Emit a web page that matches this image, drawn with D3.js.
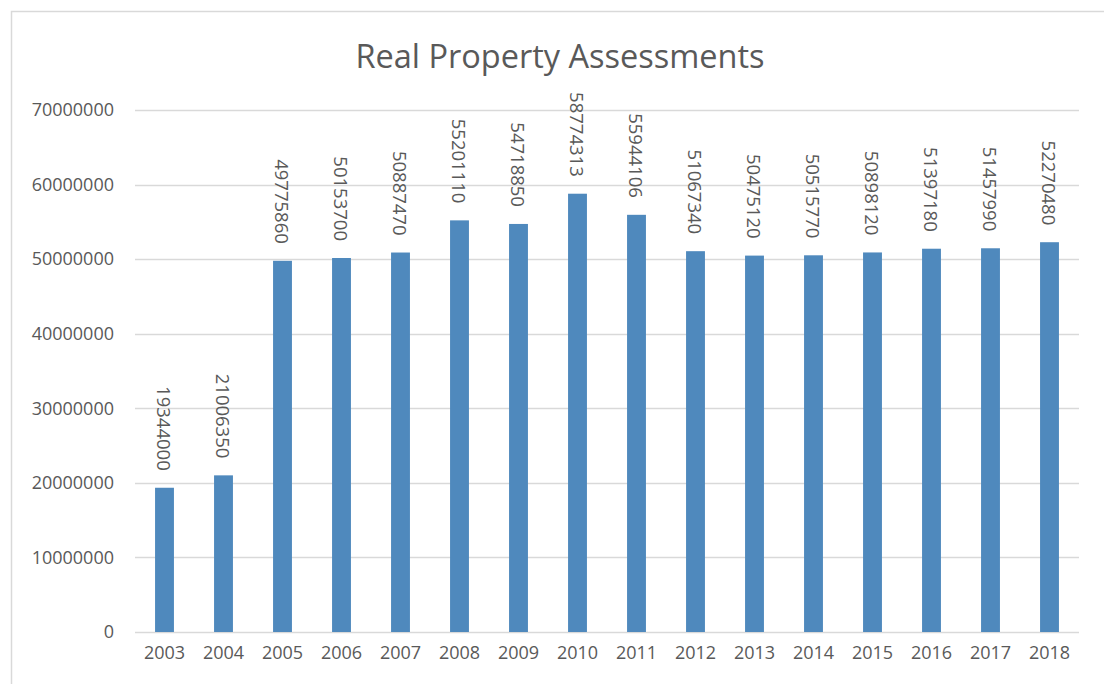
<!DOCTYPE html>
<html><head><meta charset="utf-8">
<script src="https://cdn.jsdelivr.net/npm/d3@7/dist/d3.min.js"></script>
<style>body{margin:0;background:#fff}svg{display:block}text{font-family:"Open Sans",sans-serif;fill:#595959}</style>
</head><body><svg id="c" width="1104" height="684"></svg>
<script>
const years = ["2003","2004","2005","2006","2007","2008","2009","2010","2011","2012","2013","2014","2015","2016","2017","2018"];
const values = [19344000,21006350,49775860,50153700,50887470,55201110,54718850,58774313,55944106,51067340,50475120,50515770,50898120,51397180,51457990,52270480];
const yTicks = [0,10000000,20000000,30000000,40000000,50000000,60000000,70000000];
const title = "Real Property Assessments";

const svg = d3.select("#c");
svg.append("rect").attr("x",11.5).attr("y",11.5).attr("width",1110).attr("height",700)
  .attr("fill","#fff").attr("stroke","#d9d9d9").attr("stroke-width",1.5);

const m = {l:135, r:1079, t:110, b:632};
const x = d3.scaleBand().domain(years).range([m.l,m.r]).paddingInner(0.68).paddingOuter(0.34);
const y = d3.scaleLinear().domain([0,70000000]).range([m.b,m.t]);

svg.append("g").selectAll("line").data(yTicks).join("line")
  .attr("x1",m.l).attr("x2",m.r).attr("y1",d=>Math.round(y(d))+0.5).attr("y2",d=>Math.round(y(d))+0.5)
  .attr("stroke","#d9d9d9").attr("stroke-width",1.5);

const yAxis = d3.axisLeft(y).tickValues(yTicks).tickFormat(d=>String(d)).tickSize(0).tickPadding(21);
const ga = svg.append("g").attr("transform",`translate(${m.l},0)`).call(yAxis);
ga.select(".domain").remove();
ga.selectAll("text").style("font-size","18px").attr("fill","#595959").style("font-family","'Open Sans',sans-serif");

const xAxis = d3.axisBottom(x).tickSize(0).tickPadding(14);
const gx = svg.append("g").attr("transform",`translate(0,${m.b})`).call(xAxis);
gx.select(".domain").remove();
gx.selectAll("text").style("font-size","18px").attr("fill","#595959").style("font-family","'Open Sans',sans-serif");

svg.append("g").selectAll("rect").data(values).join("rect")
  .attr("x",(d,i)=>x(years[i])).attr("width",x.bandwidth())
  .attr("y",d=>y(d)).attr("height",d=>m.b-y(d)).attr("fill","#4f89bd");

svg.append("g").selectAll("text").data(values).join("text")
  .attr("transform",(d,i)=>`translate(${x(years[i])+x.bandwidth()/2},${y(d)-17}) rotate(90)`)
  .attr("text-anchor","end").attr("dominant-baseline","central")
  .style("font-size","18.5px").text(d=>String(d));

svg.append("text").attr("x",560).attr("y",68).attr("text-anchor","middle")
  .style("font-size","32.5px").text(title);
</script></body></html>
